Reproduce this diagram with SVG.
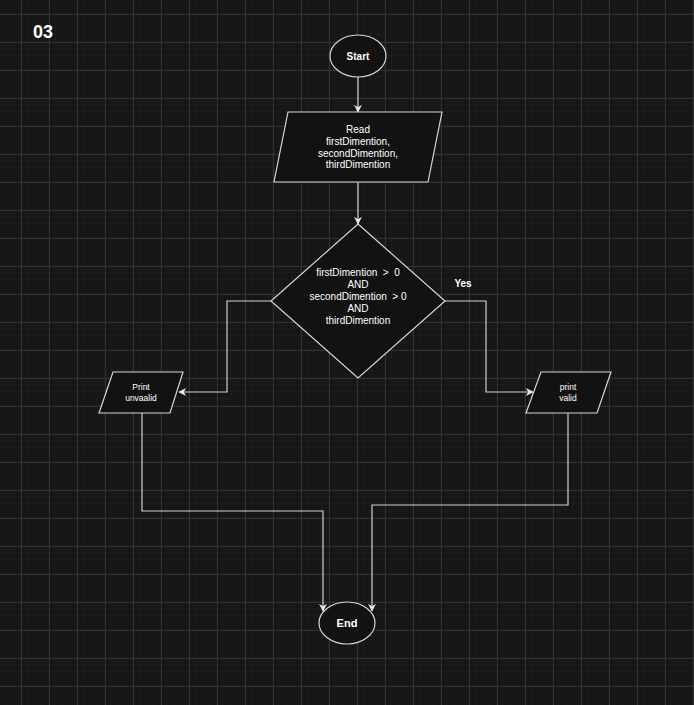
<svg xmlns="http://www.w3.org/2000/svg" width="694" height="705" viewBox="0 0 694 705">
<defs>
<pattern id="minor" x="0" y="0" width="7" height="7" patternUnits="userSpaceOnUse">
<path d="M7 0V7M0 7H7" fill="none" stroke="#1f1f1f" stroke-width="1"/>
</pattern>
<pattern id="major" x="21" y="14" width="28" height="28" patternUnits="userSpaceOnUse">
<path d="M0.5 0V28M0 0.5H28" fill="none" stroke="#323232" stroke-width="1"/>
</pattern>
<marker id="arr" viewBox="0 0 10 10" refX="9" refY="5" markerWidth="8" markerHeight="8" markerUnits="userSpaceOnUse" orient="auto">
<path d="M0 0L10 5L0 10L3 5Z" fill="#e6e6e6"/>
</marker>
<style>
.shape{fill:#121212;stroke:#d6d6d6;stroke-width:1.2}
.edge{fill:none;stroke:#d0d0d0;stroke-width:1.2;marker-end:url(#arr)}
.t{font-family:"Liberation Sans",Arial,sans-serif;fill:#ffffff;text-anchor:middle}
.s10{font-size:10px}
.s8{font-size:8.5px}
.b{font-weight:bold}
</style>
</defs>
<rect width="694" height="705" fill="#161616"/>
<rect width="694" height="705" fill="url(#minor)"/>
<rect width="694" height="705" fill="url(#major)"/>
<text class="t b" x="43" y="38" font-size="18">03</text>
<g id="connectors">
<path class="edge" d="M358 77V112"/>
<path class="edge" d="M358 182V224"/>
<path class="edge" d="M271 301H227V392H179"/>
<path class="edge" d="M445 301H486V392H533"/>
<path class="edge" d="M142 413V511H323V611"/>
<path class="edge" d="M568 413V505H372V611"/>
<text class="t b s10" x="463" y="287">Yes</text>
</g>
<g id="start">
<ellipse class="shape" cx="358" cy="56" rx="28" ry="21"/>
<text class="t b s10" x="358" y="60">Start</text>
</g>
<g id="read">
<polygon class="shape" points="288,112 442,112 428,182 274,182"/>
<text class="t s10" x="358" y="133">Read</text>
<text class="t s10" x="358" y="145">firstDimention,</text>
<text class="t s10" x="358" y="157">secondDimention,</text>
<text class="t s10" x="358" y="168">thirdDimention</text>
</g>
<g id="decision">
<polygon class="shape" points="358,224 445,301 358,378 271,301"/>
<text class="t s10" x="358" y="276" xml:space="preserve">firstDimention  &gt;  0</text>
<text class="t s10" x="358" y="288">AND</text>
<text class="t s10" x="358" y="300" xml:space="preserve">secondDimention  &gt; 0</text>
<text class="t s10" x="358" y="312">AND</text>
<text class="t s10" x="358" y="324">thirdDimention</text>
</g>
<g id="print-unvaalid">
<polygon class="shape" points="113,372 183,372 170,413 99,413"/>
<text class="t s8" x="141" y="390">Print</text>
<text class="t s8" x="141" y="401">unvaalid</text>
</g>
<g id="print-valid">
<polygon class="shape" points="541,372 611,372 597,413 526,413"/>
<text class="t s8" x="568" y="390">print</text>
<text class="t s8" x="568" y="401">valid</text>
</g>
<g id="end">
<ellipse class="shape" cx="347" cy="623" rx="28" ry="21"/>
<text class="t b" font-size="11" x="347" y="627">End</text>
</g>
</svg>
